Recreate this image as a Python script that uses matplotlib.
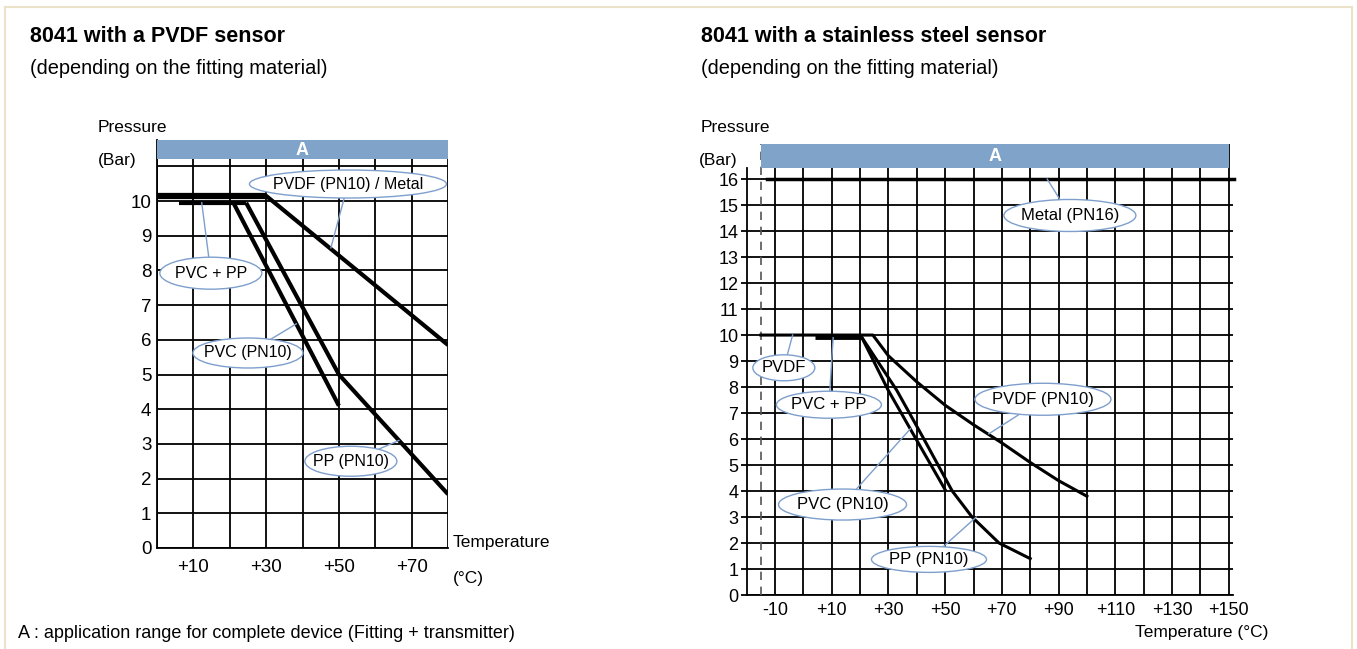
import matplotlib.pyplot as plt
from matplotlib.patches import Rectangle, Ellipse
from matplotlib.lines import Line2D

plt.rcParams['font.family'] = ['Liberation Sans', 'DejaVu Sans']

W, H = 1357, 649

# ---- left chart: 8041 with a PVDF sensor ----
l_pvdf_metal_t = [0, 30, 80]
l_pvdf_metal_p = [10.15, 10.15, 5.85]
l_pvcpp_t = [6, 24.5]
l_pvcpp_p = [9.95, 9.95]
l_pvc_t = [21, 50]
l_pvc_p = [9.95, 4.1]
l_pp_t = [24.5, 50, 70, 80]
l_pp_p = [9.95, 5.0, 2.7, 1.55]
l_xticks = [0, 10, 20, 30, 40, 50, 60, 70, 80]
l_xlabels = ['', '+10', '', '+30', '', '+50', '', '+70', '']
l_yticks = list(range(0, 12))
l_ylabels = [str(v) for v in range(0, 11)] + ['']

# ---- right chart: 8041 with a stainless steel sensor ----
r_metal_t = [-13, 152]
r_metal_p = [16, 16]
r_pvdf_t = [-15, 24.5, 30, 40, 50, 60, 70, 80, 90, 100]
r_pvdf_p = [10, 10, 9.2, 8.2, 7.3, 6.55, 5.85, 5.1, 4.4, 3.8]
r_pvcpp_t = [4, 20.5]
r_pvcpp_p = [9.93, 9.93]
r_pvc_t = [20.5, 29.9, 40, 50]
r_pvc_p = [9.93, 7.88, 5.95, 4.05]
r_pp_t = [20.5, 32.9, 42.5, 47.5, 52.5, 59.5, 69, 80]
r_pp_p = [9.93, 7.88, 6.0, 5.0, 4.0, 3.0, 2.0, 1.4]
r_xticks = list(range(-10, 151, 10))
r_xlabels = ['-10', '', '+10', '', '+30', '', '+50', '', '+70', '', '+90', '',
             '+110', '', '+130', '', '+150']
r_yticks = list(range(0, 17))

BAND = '#80A3C9'
BLUE = '#7E9FCC'

# pixels per data unit
L_SX, L_SY = 3.6375, 34.7
R_SX, R_SY = 2.835, 26.0


def fx(px):
    return px / W


def fy(py):
    return 1 - py / H


def label(ax, text, xy, center, size, sx, sy, fs):
    ax.plot([center[0], xy[0]], [center[1], xy[1]], color=BLUE, lw=1, zorder=5)
    ax.add_patch(Ellipse(center, size[0] / sx, size[1] / sy, fc='white',
                         ec=BLUE, lw=1, zorder=6))
    ax.text(center[0], center[1], text, ha='center', va='center',
            fontsize=fs, zorder=7)


fig = plt.figure(figsize=(W / 100, H / 100), dpi=100)

# frame
for xs, ys in [([5, 5], [7, H]), ([5, 1352], [7, 7]), ([1352, 1352], [7, H])]:
    fig.add_artist(Line2D([fx(x) for x in xs], [fy(y) for y in ys],
                          color='#EAE3CA', lw=1.5))

# ---------- left axes ----------
ax1 = fig.add_axes([fx(157), fy(548), fx(448 - 157), (548 - 140.3) / H])
ax1.set_xlim(0, 80)
ax1.set_ylim(0, 11.75)
ax1.set_axisbelow(True)
ax1.set_xticks(l_xticks, l_xlabels)
ax1.set_yticks(l_yticks, l_ylabels)
ax1.tick_params(length=0, labelsize=13.5)
ax1.tick_params(axis='x', pad=8)
ax1.tick_params(axis='y', pad=4)
ax1.grid(True, color='black', lw=1.3)
for s in ['top', 'right']:
    ax1.spines[s].set_visible(False)
for s in ['left', 'bottom']:
    ax1.spines[s].set_linewidth(1.3)
ax1.add_patch(Rectangle((0, 11.2), 80, 0.55, color=BAND, zorder=3, lw=0))
ax1.text(40, 11.47, 'A', color='white', fontweight='bold', fontsize=13,
         ha='center', va='center', zorder=4)

ax1.plot(l_pvdf_metal_t, l_pvdf_metal_p, color='black', lw=3, zorder=4,
         solid_capstyle='butt')
ax1.plot(l_pvdf_metal_t[:2], l_pvdf_metal_p[:2], color='black', lw=4.5, zorder=4,
         solid_capstyle='butt')
ax1.plot(l_pvcpp_t, l_pvcpp_p, color='black', lw=3, zorder=4, solid_capstyle='butt')
ax1.plot(l_pvc_t, l_pvc_p, color='black', lw=3, zorder=4, solid_capstyle='butt')
ax1.plot(l_pp_t, l_pp_p, color='black', lw=3, zorder=4, solid_capstyle='butt')

label(ax1, 'PVDF (PN10) / Metal', (47.8, 8.65), (52.5, 10.49), (197, 28), L_SX, L_SY, 11.5)
label(ax1, 'PVC + PP', (12.3, 9.95), (14.8, 7.92), (102, 32), L_SX, L_SY, 11.5)
label(ax1, 'PVC (PN10)', (38.3, 6.46), (25.0, 5.62), (110, 30), L_SX, L_SY, 11.5)
label(ax1, 'PP (PN10)', (66.5, 3.1), (53.3, 2.5), (92, 30), L_SX, L_SY, 11.5)

fig.text(fx(98), fy(128), 'Pressure', fontsize=12.5, va='center')
fig.text(fx(98), fy(160), '(Bar)', fontsize=12.5, va='center')
fig.text(fx(453), fy(542), 'Temperature', fontsize=12.5, va='center')
fig.text(fx(453), fy(578), '(°C)', fontsize=12.5, va='center')

# ---------- right axes ----------
r_left = 746.7
r_right = 746.7 + 171.5 * R_SX
ax2 = fig.add_axes([fx(r_left), fy(595), fx(r_right - r_left), (595 - 144) / H])
ax2.set_xlim(-20, 151.5)
ax2.set_ylim(0, 17.35)
ax2.set_axisbelow(True)
ax2.set_xticks(r_xticks, r_xlabels)
ax2.set_yticks(r_yticks)
ax2.tick_params(axis='x', length=0, labelsize=13, pad=5)
ax2.tick_params(axis='y', length=4, width=1.3, labelsize=13, pad=2, direction='out')
ax2.grid(True, color='black', lw=1.3)
for s in ['top', 'right']:
    ax2.spines[s].set_visible(False)
for s in ['left', 'bottom']:
    ax2.spines[s].set_linewidth(1.3)
ax2.spines['left'].set_bounds(0, 16.41)
ax2.axvline(-15, color='#555555', lw=1.2, ls=(0, (5, 4)), zorder=3)
ax2.add_patch(Rectangle((-15, 16.41), 165, 0.94, color=BAND, zorder=3, lw=0))
ax2.text(67.5, 16.88, 'A', color='white', fontweight='bold', fontsize=13,
         ha='center', va='center', zorder=4)

ax2.plot(r_metal_t, r_metal_p, color='black', lw=2.5, zorder=4, clip_on=False)
ax2.plot(r_pvdf_t, r_pvdf_p, color='black', lw=2.2, zorder=4)
ax2.plot(r_pvcpp_t, r_pvcpp_p, color='black', lw=3.5, zorder=4, solid_capstyle='butt')
ax2.plot(r_pvc_t, r_pvc_p, color='black', lw=2.2, zorder=4)
ax2.plot(r_pp_t, r_pp_p, color='black', lw=2.2, zorder=4)

label(ax2, 'Metal (PN16)', (86, 16), (94, 14.6), (132, 32), R_SX, R_SY, 12)
label(ax2, 'PVDF', (-3.8, 10), (-6.9, 8.74), (62, 26), R_SX, R_SY, 12)
label(ax2, 'PVC + PP', (10.5, 9.9), (9, 7.32), (105, 27), R_SX, R_SY, 12)
label(ax2, 'PVDF (PN10)', (65.4, 6.2), (84.5, 7.53), (136, 32), R_SX, R_SY, 12)
label(ax2, 'PVC (PN10)', (37.8, 6.4), (13.8, 3.48), (128, 31), R_SX, R_SY, 12)
label(ax2, 'PP (PN10)', (61, 3.0), (44.3, 1.37), (115, 26), R_SX, R_SY, 12)

fig.text(fx(701), fy(128), 'Pressure', fontsize=12.5, va='center')
fig.text(fx(699), fy(160), '(Bar)', fontsize=12.5, va='center')
fig.text(fx(1268), fy(632), 'Temperature (°C)', fontsize=12.5, va='center', ha='right')

# titles
fig.text(fx(30), fy(36), '8041 with a PVDF sensor', fontsize=15.5, fontweight='bold', va='center')
fig.text(fx(30), fy(68), '(depending on the fitting material)', fontsize=14.4, va='center')
fig.text(fx(701), fy(36), '8041 with a stainless steel sensor', fontsize=15.5,
         fontweight='bold', va='center')
fig.text(fx(701), fy(68), '(depending on the fitting material)', fontsize=14.4, va='center')
fig.text(fx(18), fy(633), 'A : application range for complete device (Fitting + transmitter)',
         fontsize=13, va='center')

fig.savefig('out.png', dpi=100)
